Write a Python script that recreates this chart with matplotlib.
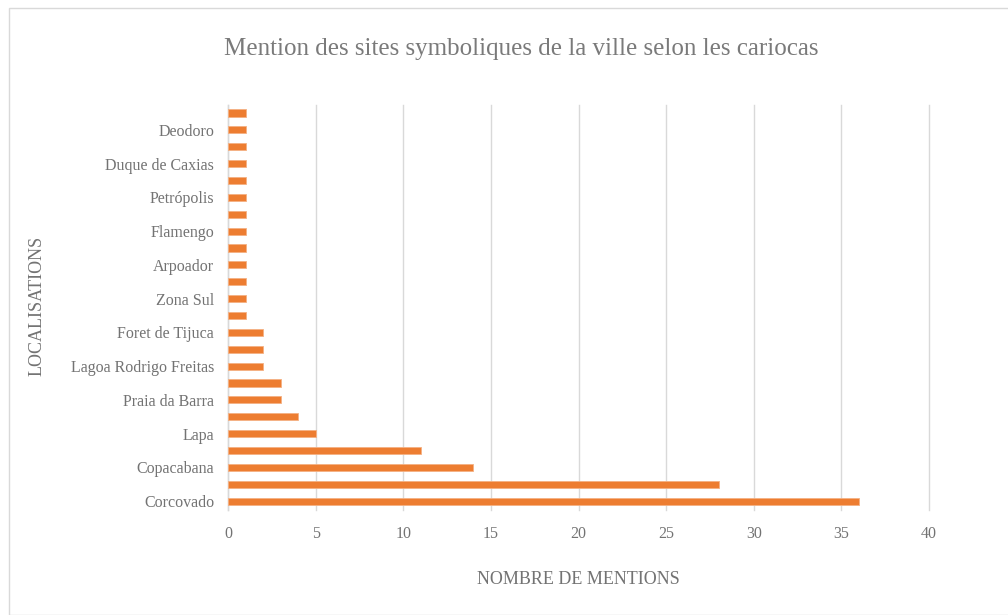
import matplotlib
matplotlib.use("Agg")
import matplotlib.pyplot as plt
import numpy as np
from matplotlib.patches import Rectangle

# Categories bottom -> top (labels hidden in the source chart are left blank)
categories = ["Corcovado", "", "Copacabana", "", "Lapa", "", "Praia da Barra", "",
              "Lagoa Rodrigo Freitas", "", "Foret de Tijuca", "", "Zona Sul", "",
              "Arpoador", "", "Flamengo", "", "Petrópolis", "", "Duque de Caxias", "",
              "Deodoro", ""]
values = [36, 28, 14, 11, 5, 4, 3, 3, 2, 2, 2, 1, 1, 1, 1, 1, 1, 1, 1, 1, 1, 1, 1, 1]
x_ticks = [0, 5, 10, 15, 20, 25, 30, 35, 40]

title = "Mention des sites symboliques de la ville selon les cariocas"
xlabel = "NOMBRE DE MENTIONS"
ylabel = "LOCALISATIONS"

plt.rcParams['font.family'] = ['Liberation Serif', 'DejaVu Serif']
text_color = "#737373"
title_color = "#7A7A7A"
bar_color = "#ED7D31"
grid_color = "#D9D9D9"

fig = plt.figure(figsize=(10.08, 6.15), dpi=100)
fig.patches.append(Rectangle((9/1008, 0), 1.0, 1 - 8/615, transform=fig.transFigure,
                             fill=False, edgecolor="#D9D9D9", linewidth=1.0, zorder=0))

ax = fig.add_axes([228/1008, 1 - 509.5/615, (929 - 228)/1008, (509.5 - 104.6)/615])
pos = np.arange(len(values))
ax.barh(pos, values, height=0.42, color=bar_color, edgecolor="#F4B183", linewidth=0.6, zorder=3)

ax.set_xlim(0, 40)
ax.set_ylim(-0.5, len(values) - 0.5)
ax.set_xticks(x_ticks)
ax.set_xticklabels([str(t) for t in x_ticks])
ax.set_yticks(pos)
ax.set_yticklabels(categories)
ax.tick_params(axis='both', length=0, colors=text_color, labelsize=11.5)
ax.tick_params(axis='x', pad=12)
ax.tick_params(axis='y', pad=10)

ax.grid(axis='x', color=grid_color, linewidth=1.0, zorder=0)
for gl in ax.get_xgridlines():
    gl.set_clip_on(False)
for s in ['top', 'right', 'bottom']:
    ax.spines[s].set_visible(False)
ax.spines['left'].set_color(grid_color)
ax.spines['left'].set_linewidth(1.0)

fig.text(521/1008, 1 - 49/615, title, ha='center', va='center', fontsize=18, color=title_color)
fig.text(578/1008, 1 - 580/615, xlabel, ha='center', va='center', fontsize=13, color=text_color)
fig.text(37/1008, 1 - 306/615, ylabel, ha='center', va='center', rotation=90, fontsize=13, color=text_color)

fig.savefig("out.png", dpi=100, facecolor="white")
